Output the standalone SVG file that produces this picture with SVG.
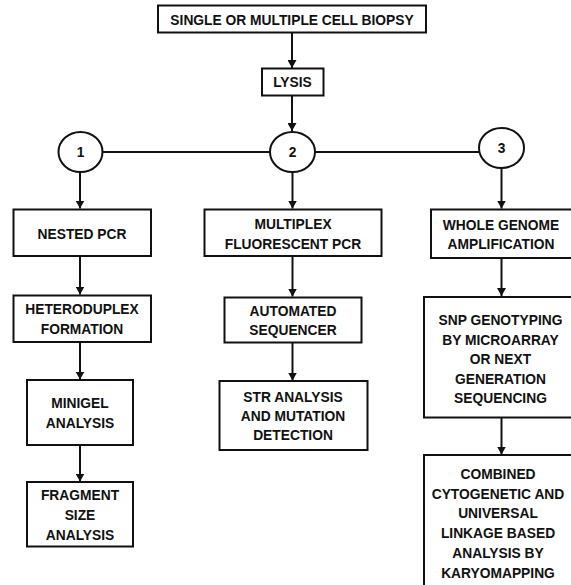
<svg xmlns="http://www.w3.org/2000/svg" width="571" height="585" viewBox="0 0 571 585">
<style>
.box{fill:#fff;stroke:#111;stroke-width:2}
.circ{fill:#fff;stroke:#111;stroke-width:2}
.ln{fill:none;stroke:#111;stroke-width:2}
text{font-family:"Liberation Sans",Arial,sans-serif;font-weight:bold;font-size:13.8px;fill:#111;text-anchor:middle}
</style>
<defs>
<marker id="ah" markerUnits="userSpaceOnUse" markerWidth="9" markerHeight="9" refX="8" refY="4.5" orient="auto">
<path d="M0,0 L8,4.5 L0,9 z" fill="#111"/>
</marker>
</defs>
<rect width="571" height="585" fill="#fff"/>
<g id="connectors">
<line class="ln" x1="292" y1="33" x2="292" y2="68" marker-end="url(#ah)"/>
<line class="ln" x1="292" y1="96" x2="292" y2="131" marker-end="url(#ah)"/>
<line class="ln" x1="102.5" y1="152" x2="270" y2="152"/>
<line class="ln" x1="315" y1="152" x2="479.5" y2="152"/>
<line class="ln" x1="80" y1="172" x2="80" y2="208.5" marker-end="url(#ah)"/>
<line class="ln" x1="292.5" y1="172" x2="292.5" y2="208.5" marker-end="url(#ah)"/>
<line class="ln" x1="501.5" y1="168" x2="501.5" y2="208.5" marker-end="url(#ah)"/>
<line class="ln" x1="80" y1="256" x2="80" y2="294.5" marker-end="url(#ah)"/>
<line class="ln" x1="80" y1="342" x2="80" y2="379.5" marker-end="url(#ah)"/>
<line class="ln" x1="80" y1="445" x2="80" y2="481.5" marker-end="url(#ah)"/>
<line class="ln" x1="292.5" y1="256" x2="292.5" y2="296.5" marker-end="url(#ah)"/>
<line class="ln" x1="292.5" y1="343" x2="292.5" y2="380.5" marker-end="url(#ah)"/>
<line class="ln" x1="501.5" y1="258" x2="501.5" y2="296" marker-end="url(#ah)"/>
<line class="ln" x1="501.5" y1="417.5" x2="501.5" y2="454.5" marker-end="url(#ah)"/>
</g>
<g id="biopsy">
<rect class="box" x="158" y="5.5" width="268" height="27"/>
<text x="292" y="25.3">SINGLE OR MULTIPLE CELL BIOPSY</text>
</g>
<g id="lysis">
<rect class="box" x="262" y="68.5" width="61.5" height="27"/>
<text x="292.5" y="87.3">LYSIS</text>
</g>
<g id="c1">
<ellipse class="circ" cx="80.5" cy="152" rx="22" ry="20"/>
<text x="80.5" y="157">1</text>
</g>
<g id="c2">
<ellipse class="circ" cx="292.5" cy="152" rx="22.5" ry="20"/>
<text x="292.5" y="157">2</text>
</g>
<g id="c3">
<ellipse class="circ" cx="501.5" cy="148" rx="22.5" ry="20"/>
<text x="501.5" y="153">3</text>
</g>
<g id="nested">
<rect class="box" x="13.5" y="209.5" width="137.5" height="46.5"/>
<text x="82" y="239">NESTED PCR</text>
</g>
<g id="hetero">
<rect class="box" x="13.5" y="295.5" width="137.5" height="46.5"/>
<text x="82" y="314">HETERODUPLEX</text>
<text x="82" y="334">FORMATION</text>
</g>
<g id="minigel">
<rect class="box" x="27" y="380" width="106" height="65"/>
<text x="80" y="408">MINIGEL</text>
<text x="80" y="427.5">ANALYSIS</text>
</g>
<g id="fragment">
<rect class="box" x="27" y="482" width="106" height="64.5"/>
<text x="80" y="500">FRAGMENT</text>
<text x="80" y="520">SIZE</text>
<text x="80" y="540">ANALYSIS</text>
</g>
<g id="multiplex">
<rect class="box" x="204.5" y="209.5" width="177" height="46.5"/>
<text x="293" y="229">MULTIPLEX</text>
<text x="293" y="249">FLUORESCENT PCR</text>
</g>
<g id="automated">
<rect class="box" x="224.5" y="297.5" width="137" height="45"/>
<text x="293" y="315.5">AUTOMATED</text>
<text x="293" y="335">SEQUENCER</text>
</g>
<g id="str">
<rect class="box" x="219.5" y="381" width="148" height="69"/>
<text x="293" y="401.5">STR ANALYSIS</text>
<text x="293" y="421">AND MUTATION</text>
<text x="293" y="440">DETECTION</text>
</g>
<g id="wga">
<rect class="box" x="431" y="209.5" width="142" height="48.5"/>
<text x="501" y="230">WHOLE GENOME</text>
<text x="501" y="249">AMPLIFICATION</text>
</g>
<g id="snp">
<rect class="box" x="424" y="297" width="150" height="120.5"/>
<text x="500.5" y="325">SNP GENOTYPING</text>
<text x="500.5" y="345">BY MICROARRAY</text>
<text x="500.5" y="364">OR NEXT</text>
<text x="500.5" y="384">GENERATION</text>
<text x="500.5" y="403">SEQUENCING</text>
</g>
<g id="combined">
<rect class="box" x="424" y="455" width="150" height="140"/>
<text x="498" y="479">COMBINED</text>
<text x="498" y="499">CYTOGENETIC AND</text>
<text x="498" y="518">UNIVERSAL</text>
<text x="498" y="538">LINKAGE BASED</text>
<text x="498" y="558">ANALYSIS BY</text>
<text x="498" y="577.5">KARYOMAPPING</text>
</g>
</svg>
